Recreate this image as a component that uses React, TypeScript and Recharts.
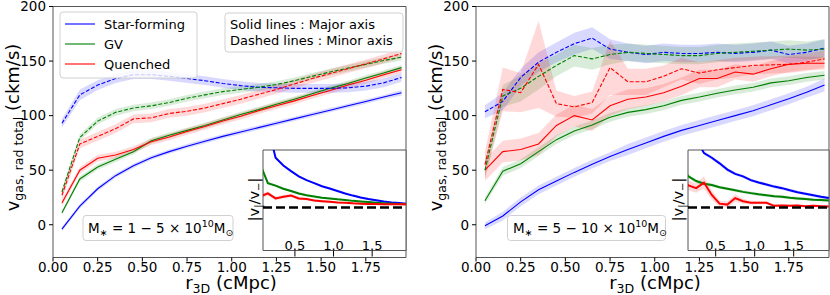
import { ComposedChart, Line, Area, XAxis, YAxis, ReferenceArea, ReferenceLine } from "recharts";

const FONT = "DejaVu Sans";
const BLUE = "#0000ff";
const GREEN = "#008000";
const RED = "#ff0000";

const X_BINS = [0.05, 0.15, 0.25, 0.35, 0.45, 0.55, 0.65, 0.75, 0.85, 0.95, 1.05, 1.15, 1.25, 1.35, 1.45, 1.55, 1.65, 1.75, 1.85, 1.95];
const X_TICKS = [0, 0.25, 0.5, 0.75, 1, 1.25, 1.5, 1.75];
const Y_TICKS = [0, 50, 100, 150, 200];
const INSET_TICKS = [0.5, 1.0, 1.5];
const RATIO_ONE = 1;
const X_DOMAIN = [0, 1.975];
const Y_DOMAIN = [-30, 200];
const RATIO_DOMAIN = [-0.39, 2.85];

// M* = 1-5e10
const LO_SF_MAJOR = [-4, 17, 33, 45, 54, 61.5, 67, 72, 76.5, 81, 85, 89, 93, 97, 101, 105, 109, 113, 117, 121];
const LO_GV_MAJOR = [11, 42, 53, 60, 67, 77, 82, 86.5, 91, 96, 101, 105.5, 110.5, 115, 120, 125, 129.5, 134.5, 139, 144];
const LO_Q_MAJOR = [20, 50, 61, 64, 69, 76, 80.5, 85.5, 90, 95, 99.5, 104.5, 109, 113.5, 118.5, 123, 128, 132.5, 137.5, 142];
const LO_SF_MINOR = [93, 119, 128, 134, 137.5, 137.5, 136, 134, 132, 129.5, 127.5, 126, 125.5, 125, 125, 125, 125.5, 127, 130, 135];
const LO_GV_MINOR = [30, 80, 95, 103, 107, 109, 112, 116, 119, 122, 124, 126, 128.5, 132, 136, 140, 143.5, 147, 150.5, 153.5];
const LO_Q_MINOR = [27, 74, 81, 88, 97, 98, 102, 104, 107, 111, 115, 119.5, 124, 129, 134, 138.5, 143, 147.5, 152, 157];
const LO_SF_MAJOR_ERR = [2, 2, 2, 2, 2, 2, 2, 2, 2, 2, 2, 2, 2, 2, 2, 2, 2, 2, 2, 2.5];
const LO_GV_MAJOR_ERR = [2, 2.5, 2.5, 2.5, 2.5, 2.5, 2.5, 2.5, 2.5, 2.5, 2.5, 2.5, 2.5, 2.5, 2.5, 2.5, 2.5, 2.5, 2.5, 2.5];
const LO_Q_MAJOR_ERR = [3, 3, 3, 3, 3, 3, 3, 3, 3, 3, 3, 3, 3, 3, 3, 3, 3, 3, 3, 3];
const LO_SF_MINOR_ERR = [4, 5, 4.5, 4, 4, 4, 4, 4, 4, 4, 4, 4, 4, 4, 4, 4, 4, 4, 4, 4];
const LO_GV_MINOR_ERR = [3, 3, 3, 3, 3, 3, 3, 3, 3, 3, 3, 3, 3, 3, 3, 3, 3, 3, 3, 3];
const LO_Q_MINOR_ERR = [4, 4, 4, 4, 4, 4, 4, 4, 4, 4, 4, 4, 4, 4, 4, 4, 4, 4, 4, 4];

// M* = 5-10e10
const HI_SF_MAJOR = [-1, 8, 21, 32, 40, 48, 55.5, 62.5, 69, 75, 81, 86.5, 91, 95.5, 100, 104.5, 110, 115.5, 121.5, 128];
const HI_GV_MAJOR = [22, 49, 56, 67, 78, 86, 91.5, 98.5, 103, 105.5, 109, 114, 117, 120.5, 123.5, 126, 130, 132, 135, 137];
const HI_Q_MAJOR = [50, 67, 69, 74, 91, 100, 96, 109, 115, 117, 121, 127, 134, 134, 140, 138, 143, 147, 148, 148];
const HI_SF_MINOR = [103.5, 113, 135, 149, 158, 166, 171, 161, 158, 156, 158, 157, 157, 158, 157, 158, 160, 156, 158, 162];
const HI_GV_MINOR = [50, 118, 125, 136, 146, 155, 152, 156, 158, 157, 156, 155, 155, 157, 158, 159, 160, 161, 160, 161];
const HI_Q_MINOR = [55, 124, 121, 147, 111, 108, 112, 144, 131, 131, 136, 143, 139, 142, 144, 146, 146.5, 147, 149, 152];
const HI_SF_MAJOR_ERR = [3, 4, 4, 4, 4, 4, 4, 4, 5, 5, 5, 5, 5, 5, 5, 5, 5, 5, 5, 6];
const HI_GV_MAJOR_ERR = [3, 4, 4, 4, 4, 4, 4, 4, 4, 4, 4, 4, 4, 4, 4, 4, 4, 4, 4, 4];
const HI_Q_MAJOR_ERR = [10, 10, 10, 10, 10, 10, 10, 9, 9, 8, 8, 8, 8, 8, 7, 7, 7, 7, 6, 6];
const HI_SF_MINOR_ERR = [6, 8, 8, 9, 9, 10, 10, 9, 8, 8, 8, 8, 8, 8, 8, 8, 8, 8, 8, 8];
const HI_GV_MINOR_ERR = [8, 10, 12, 12, 10, 10, 10, 9, 8, 8, 8, 8, 8, 8, 8, 8, 8, 8, 8, 9];
const HI_Q_MINOR_ERR = [12, 20, 18, 40, 12, 10, 10, 25, 12, 12, 10, 10, 10, 9, 9, 8, 8, 8, 8, 8];

// insets: |v_minor / v_major|
const LO_SF_RATIO = [4.5, 3.6, 2.6, 2.35, 2.17, 2.0, 1.88, 1.78, 1.68, 1.61, 1.53, 1.45, 1.38, 1.32, 1.27, 1.23, 1.19, 1.16, 1.14, 1.11];
const LO_GV_RATIO = [2.4, 1.78, 1.7, 1.6, 1.53, 1.45, 1.39, 1.35, 1.31, 1.29, 1.26, 1.24, 1.21, 1.19, 1.17, 1.15, 1.13, 1.12, 1.11, 1.1];
const LO_Q_RATIO = [1.35, 1.45, 1.29, 1.34, 1.38, 1.29, 1.27, 1.22, 1.2, 1.18, 1.16, 1.15, 1.13, 1.12, 1.11, 1.11, 1.1, 1.1, 1.1, 1.1];
const LO_SF_RATIO_ERR = [0.04, 0.04, 0.04, 0.03, 0.03, 0.03, 0.03, 0.03, 0.03, 0.03, 0.03, 0.03, 0.03, 0.03, 0.03, 0.03, 0.03, 0.03, 0.03, 0.03];
const LO_GV_RATIO_ERR = [0.08, 0.05, 0.04, 0.04, 0.04, 0.04, 0.04, 0.03, 0.03, 0.03, 0.03, 0.03, 0.03, 0.03, 0.03, 0.03, 0.03, 0.03, 0.03, 0.03];
const LO_Q_RATIO_ERR = [0.08, 0.07, 0.06, 0.06, 0.05, 0.05, 0.04, 0.04, 0.04, 0.03, 0.03, 0.03, 0.03, 0.03, 0.03, 0.03, 0.03, 0.03, 0.03, 0.03];

const HI_SF_RATIO = [5, 3.8, 3.2, 2.75, 2.6, 2.42, 2.22, 2.08, 2.0, 1.88, 1.8, 1.74, 1.67, 1.62, 1.55, 1.49, 1.44, 1.39, 1.34, 1.3];
const HI_GV_RATIO = [2.3, 2.0, 1.85, 1.76, 1.72, 1.65, 1.6, 1.55, 1.5, 1.46, 1.42, 1.39, 1.36, 1.34, 1.31, 1.29, 1.27, 1.25, 1.24, 1.22];
const HI_Q_RATIO = [1.9, 1.71, 1.62, 1.8, 1.4, 1.12, 1.09, 1.3, 1.2, 1.15, 1.15, 1.15, 1.05, 1.06, 1.05, 1.06, 1.04, 1.05, 1.04, 1.03];
const HI_SF_RATIO_ERR = [0.08, 0.07, 0.06, 0.06, 0.06, 0.06, 0.06, 0.05, 0.05, 0.05, 0.05, 0.05, 0.05, 0.05, 0.05, 0.05, 0.05, 0.05, 0.05, 0.05];
const HI_GV_RATIO_ERR = [0.08, 0.07, 0.06, 0.06, 0.06, 0.05, 0.05, 0.05, 0.05, 0.05, 0.05, 0.05, 0.05, 0.05, 0.05, 0.05, 0.05, 0.05, 0.05, 0.05];
const HI_Q_RATIO_ERR = [0.2, 0.16, 0.15, 0.2, 0.15, 0.1, 0.1, 0.12, 0.08, 0.06, 0.05, 0.05, 0.04, 0.04, 0.04, 0.04, 0.04, 0.04, 0.04, 0.04];

type Series = { key: string; color: string; dashed?: boolean; values: number[]; err: number[] };

const LO_MAIN: Series[] = [
  { key: "sfMaj", color: BLUE, values: LO_SF_MAJOR, err: LO_SF_MAJOR_ERR },
  { key: "gvMaj", color: GREEN, values: LO_GV_MAJOR, err: LO_GV_MAJOR_ERR },
  { key: "qMaj", color: RED, values: LO_Q_MAJOR, err: LO_Q_MAJOR_ERR },
  { key: "sfMin", color: BLUE, dashed: true, values: LO_SF_MINOR, err: LO_SF_MINOR_ERR },
  { key: "gvMin", color: GREEN, dashed: true, values: LO_GV_MINOR, err: LO_GV_MINOR_ERR },
  { key: "qMin", color: RED, dashed: true, values: LO_Q_MINOR, err: LO_Q_MINOR_ERR },
];
const HI_MAIN: Series[] = [
  { key: "sfMaj", color: BLUE, values: HI_SF_MAJOR, err: HI_SF_MAJOR_ERR },
  { key: "gvMaj", color: GREEN, values: HI_GV_MAJOR, err: HI_GV_MAJOR_ERR },
  { key: "qMaj", color: RED, values: HI_Q_MAJOR, err: HI_Q_MAJOR_ERR },
  { key: "sfMin", color: BLUE, dashed: true, values: HI_SF_MINOR, err: HI_SF_MINOR_ERR },
  { key: "gvMin", color: GREEN, dashed: true, values: HI_GV_MINOR, err: HI_GV_MINOR_ERR },
  { key: "qMin", color: RED, dashed: true, values: HI_Q_MINOR, err: HI_Q_MINOR_ERR },
];
const LO_INSET: Series[] = [
  { key: "sf", color: BLUE, values: LO_SF_RATIO, err: LO_SF_RATIO_ERR },
  { key: "gv", color: GREEN, values: LO_GV_RATIO, err: LO_GV_RATIO_ERR },
  { key: "q", color: RED, values: LO_Q_RATIO, err: LO_Q_RATIO_ERR },
];
const HI_INSET: Series[] = [
  { key: "sf", color: BLUE, values: HI_SF_RATIO, err: HI_SF_RATIO_ERR },
  { key: "gv", color: GREEN, values: HI_GV_RATIO, err: HI_GV_RATIO_ERR },
  { key: "q", color: RED, values: HI_Q_RATIO, err: HI_Q_RATIO_ERR },
];

function rows(series: Series[]) {
  return X_BINS.map((x, i) => {
    const row: Record<string, number | number[]> = { x };
    for (const s of series) {
      row[s.key] = s.values[i];
      row[s.key + "Band"] = [s.values[i] - s.err[i], s.values[i] + s.err[i]];
    }
    return row;
  });
}

const tickStyle = { fontSize: 13.5, fill: "#000", fontFamily: FONT };

function MainPanel({ series, width, right }: { series: Series[]; width: number; right: number }) {
  return (
    <ComposedChart width={width} height={295} data={rows(series)} margin={{ top: 6.5, right, bottom: 0, left: 0 }}>
      <XAxis dataKey="x" type="number" domain={X_DOMAIN} ticks={X_TICKS} interval={0} allowDataOverflow
        tickFormatter={(v: number) => v.toFixed(2)} height={37.5} axisLine={false} tickSize={4} tickMargin={1}
        tick={tickStyle} tickLine={{ stroke: "#000" }} />
      <YAxis type="number" domain={Y_DOMAIN} ticks={Y_TICKS} interval={0} allowDataOverflow width={53}
        axisLine={false} tickSize={4} tickMargin={3} tick={tickStyle} tickLine={{ stroke: "#000" }} />
      {series.map((s) => (
        <Area key={s.key + "Band"} dataKey={s.key + "Band"} type="linear" stroke="none" fill={s.color}
          fillOpacity={0.15} dot={false} activeDot={false} isAnimationActive={false} />
      ))}
      {series.map((s) => (
        <Line key={s.key} dataKey={s.key} type="linear" stroke={s.color} strokeWidth={1.1}
          strokeDasharray={s.dashed ? "4 1.8" : undefined} dot={false} activeDot={false} isAnimationActive={false} />
      ))}
      <ReferenceArea x1={X_DOMAIN[0]} x2={X_DOMAIN[1]} y1={Y_DOMAIN[0]} y2={Y_DOMAIN[1]} fill="none"
        stroke="#555" strokeWidth={1} ifOverflow="visible" />
    </ComposedChart>
  );
}

function Inset({ series, domain, width }: { series: Series[]; domain: number[]; width: number }) {
  return (
    <ComposedChart width={width} height={109} data={rows(series)} margin={{ top: 1, right: 1, bottom: 0, left: 1 }}>
      <XAxis dataKey="x" type="number" domain={domain} ticks={INSET_TICKS} interval={0} allowDataOverflow
        height={7.5} axisLine={false} tickSize={6} tickMargin={0} tickLine={{ stroke: "#000" }}
        tick={(p: any) => (
          <text x={p.x} y={p.y - 7} textAnchor="middle" fontSize={13} fontFamily={FONT} fill="#000">
            {p.payload.value.toFixed(1)}
          </text>
        )} />
      <YAxis type="number" domain={RATIO_DOMAIN} allowDataOverflow hide />
      {series.map((s) => (
        <Area key={s.key + "Band"} dataKey={s.key + "Band"} type="linear" stroke="none" fill={s.color}
          fillOpacity={0.15} dot={false} activeDot={false} isAnimationActive={false} />
      ))}
      {series.map((s) => (
        <Line key={s.key} dataKey={s.key} type="linear" stroke={s.color} strokeWidth={2}
          dot={false} activeDot={false} isAnimationActive={false} />
      ))}
      <ReferenceLine y={RATIO_ONE} stroke="#000" strokeWidth={2.5} strokeDasharray="9 4" />
      <ReferenceArea x1={domain[0]} x2={domain[1]} y1={RATIO_DOMAIN[0]} y2={RATIO_DOMAIN[1]} fill="none"
        stroke="#555" strokeWidth={1} ifOverflow="visible" />
    </ComposedChart>
  );
}

function YLabel({ x }: { x: number }) {
  return (
    <text transform={`translate(${x},127.5) rotate(-90)`} textAnchor="middle" fontSize={18}>
      v<tspan dy={4} fontSize={12.6}>gas, rad total</tspan>
      <tspan dy={-4}>{" (ckm/s)"}</tspan>
    </text>
  );
}

function XLabel({ x }: { x: number }) {
  return (
    <text x={x} y={288.5} textAnchor="middle" fontSize={18}>
      r<tspan dy={4} fontSize={12.6}>3D</tspan>
      <tspan dy={-4}>{" (cMpc)"}</tspan>
    </text>
  );
}

function RatioLabel({ x }: { x: number }) {
  return (
    <text transform={`translate(${x},199.5) rotate(-90)`} textAnchor="middle" fontSize={14.5}>
      |v<tspan dy={3} fontSize={10}>|</tspan>
      <tspan dy={-3}>/v</tspan>
      <tspan dy={3} fontSize={10}>−</tspan>
      <tspan dy={-3}>|</tspan>
    </text>
  );
}

function MassLabel({ x, text }: { x: number; text: string }) {
  return (
    <text x={x} y={232.5} fontSize={13.5}>
      M<tspan dy={3} fontSize={9.5}>∗</tspan>
      <tspan dy={-3}>{text}</tspan>
      <tspan dy={-6} fontSize={9.5}>10</tspan>
      <tspan dy={6}>M</tspan>
      <tspan dy={3} fontSize={9.5}>⊙</tspan>
    </text>
  );
}

const LEGEND = [
  { label: "Star-forming", color: BLUE },
  { label: "GV", color: GREEN },
  { label: "Quenched", color: RED },
];

const boxStyle = { fill: "#fff", fillOpacity: 0.8, stroke: "#d0d0d0", strokeWidth: 1 };

export default function App() {
  return (
    <div style={{ position: "relative", width: 830, height: 295, fontFamily: FONT, background: "#fff" }}>
      <style>{"body{margin:0}"}</style>
      <div style={{ position: "absolute", left: 0, top: 0 }}>
        <MainPanel series={LO_MAIN} width={415} right={9} />
      </div>
      <div style={{ position: "absolute", left: 423, top: 0 }}>
        <MainPanel series={HI_MAIN} width={407} right={1} />
      </div>
      <div style={{ position: "absolute", left: 263, top: 149.5, width: 143, height: 100.5, background: "#fff" }} />
      <div style={{ position: "absolute", left: 688, top: 149.5, width: 141, height: 100.5, background: "#fff" }} />
      <div style={{ position: "absolute", left: 262, top: 148.5 }}>
        <Inset series={LO_INSET} domain={[0.087, 1.938]} width={145} />
      </div>
      <div style={{ position: "absolute", left: 687, top: 148.5 }}>
        <Inset series={HI_INSET} domain={[0.145, 1.953]} width={143} />
      </div>
      <svg width={830} height={295} style={{ position: "absolute", left: 0, top: 0, pointerEvents: "none" }}
        fontFamily={FONT} fill="#000">
        <YLabel x={18.5} />
        <YLabel x={441.5} />
        <XLabel x={231} />
        <XLabel x={655} />
        <RatioLabel x={259} />
        <RatioLabel x={683} />

        <rect x={60} y={12} width={137} height={66} rx={3} {...boxStyle} />
        {LEGEND.map((l, i) => (
          <g key={l.label}>
            <line x1={65} x2={95} y1={24 + i * 20} y2={24 + i * 20} stroke={l.color} strokeWidth={1.1} />
            <text x={104} y={28.5 + i * 20} fontSize={13}>{l.label}</text>
          </g>
        ))}

        <rect x={225} y={13} width={178} height={39} rx={3} {...boxStyle} />
        <text x={230} y={28.5} fontSize={13}>Solid lines : Major axis</text>
        <text x={230} y={44.5} fontSize={13}>Dashed lines : Minor axis</text>

        <rect x={83} y={215.5} width={150} height={25} rx={3} {...boxStyle} />
        <MassLabel x={88} text={" = 1 − 5 × 10"} />
        <rect x={507.5} y={215.5} width={158} height={25} rx={3} {...boxStyle} />
        <MassLabel x={513} text={" = 5 − 10 × 10"} />
      </svg>
    </div>
  );
}
